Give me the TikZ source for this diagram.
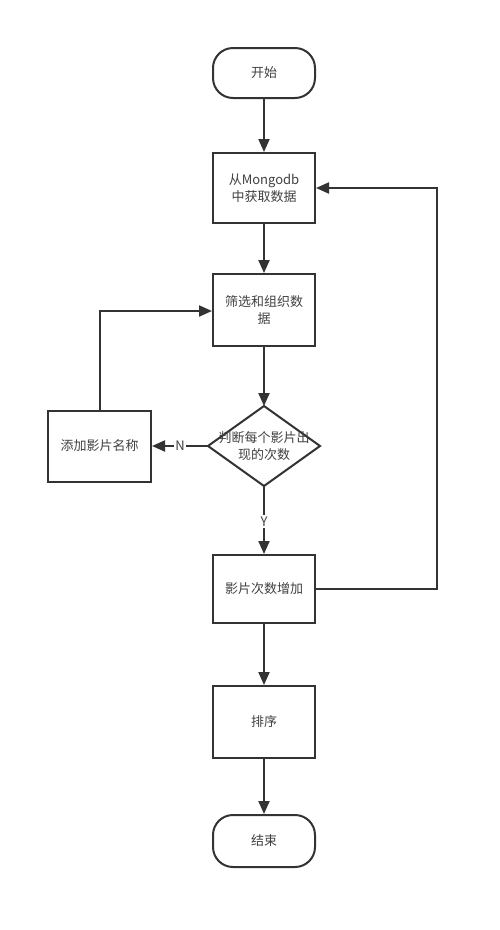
\documentclass[tikz,border=0pt]{standalone}
\usepackage{fontspec}
\setmainfont{Noto Sans CJK SC}
\usetikzlibrary{arrows.meta,shapes.geometric}
\begin{document}
\begin{tikzpicture}[x=1pt,y=-1pt,
  every node/.style={font=\fontsize{13pt}{17pt}\selectfont, text=black!75, align=center},
  line/.style={draw=black!80, line width=2pt},
  arr/.style={line, -{Triangle[length=13pt,width=11pt]}},
  procbox/.style={line, rectangle, minimum width=102pt, minimum height=71pt, inner sep=0pt},
  term/.style={line, rectangle, rounded corners=20pt, minimum width=102pt, minimum height=50pt, inner sep=0pt},
  lbl/.style={fill=white, inner sep=1.5pt}
]
\useasboundingbox (0,0) rectangle (500,930);
\node[term] (start) at (264,73) {开始};
\node[procbox, minimum height=70pt] (fetch) at (264,188) {从Mongodb\\中获取数据};
\node[procbox, minimum height=72pt] (filter) at (264,310) {筛选和组织数\\据};
\coordinate (decT) at (264,406);
\coordinate (decB) at (264,486);
\coordinate (decL) at (208,446);
\coordinate (decR) at (320,446);
\draw[line] (decT) -- (decR) -- (decB) -- (decL) -- cycle;
\node (dec) at (264,446) {判断每个影片出\\现的次数};
\node[procbox, minimum width=103pt] (add) at (99.5,446) {添加影片名称};
\node[procbox, minimum height=68pt] (inc) at (264,589) {影片次数增加};
\node[procbox, minimum height=72pt] (sort) at (264,722) {排序};
\node[term, minimum height=52pt] (end) at (264,841) {结束};

\draw[arr] (start) -- (fetch);
\draw[arr] (fetch) -- (filter);
\draw[arr] (filter.south) -- (decT);
\draw[arr] (decL) -- node[lbl] {N} (add.east);
\draw[arr] (decB) -- node[lbl, pos=0.52] {Y} (inc.north);
\draw[arr] (add.north) |- (filter.west |- 0,311);
\draw[arr] (inc.east) -- (437,589) |- (fetch.east);
\draw[arr] (inc) -- (sort);
\draw[arr] (sort) -- (end);
\end{tikzpicture}
\end{document}
